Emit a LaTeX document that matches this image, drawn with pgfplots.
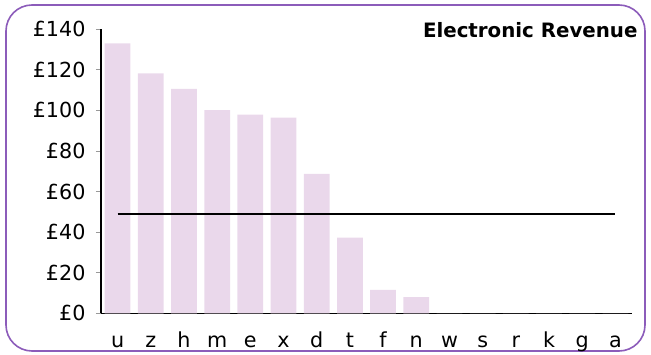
\documentclass[border=0pt]{standalone}
\usepackage{fontspec}
\setmainfont{DejaVu Sans}
\usepackage{pgfplots}
\pgfplotsset{compat=1.18}
\definecolor{barfill}{RGB}{234,216,235}
\definecolor{frame}{RGB}{140,92,186}
\begin{document}
\begin{tikzpicture}
\useasboundingbox (0,0) rectangle (651pt,354pt);
\draw[frame, line width=1.6pt, rounded corners=26pt] (6pt,3pt) rectangle (645pt,349pt);
\begin{axis}[
    at={(101pt,40.7pt)}, anchor=south west,
    scale only axis, width=531pt, height=284pt,
    xmin=-0.5, xmax=15.5, ymin=0, ymax=140,
    axis lines*=left,
    axis line style={black, line width=1pt},
    xtick={0,...,15},
    xticklabels={u,z,h,m,e,x,d,t,f,n,w,s,r,k,g,a},
    x tick style={draw=none},
    ytick={0,20,...,140},
    y tick style={gray!80, line width=1pt},
    major tick length=5pt,
    tick align=outside,
    yticklabel={£\pgfmathprintnumber{\tick}},
    /pgf/number format/assume math mode=true,
    tick label style={font=\fontsize{20.7}{24}\selectfont},
    xticklabel style={anchor=base, yshift=-29pt},
    yticklabel style={xshift=-7pt},
    clip=false,
]
\addplot[ybar, bar width=25.7pt, fill=barfill, draw=none] coordinates {
(0,133.1) (1,118.3) (2,110.6) (3,100.2) (4,97.9) (5,96.4) (6,68.7) (7,37.3)
(8,11.5) (9,8.0) (10,0) (11,0) (12,0) (13,0) (14,0) (15,0)};
\addplot[black, line width=2.2pt, sharp plot, mark=none] coordinates {(0,48.8) (15,48.8)};
\end{axis}
\node[anchor=base east, font=\fontsize{19.8}{23}\selectfont\bfseries] at (641pt,316.3pt) {Electronic Revenue};
\end{tikzpicture}
\end{document}
